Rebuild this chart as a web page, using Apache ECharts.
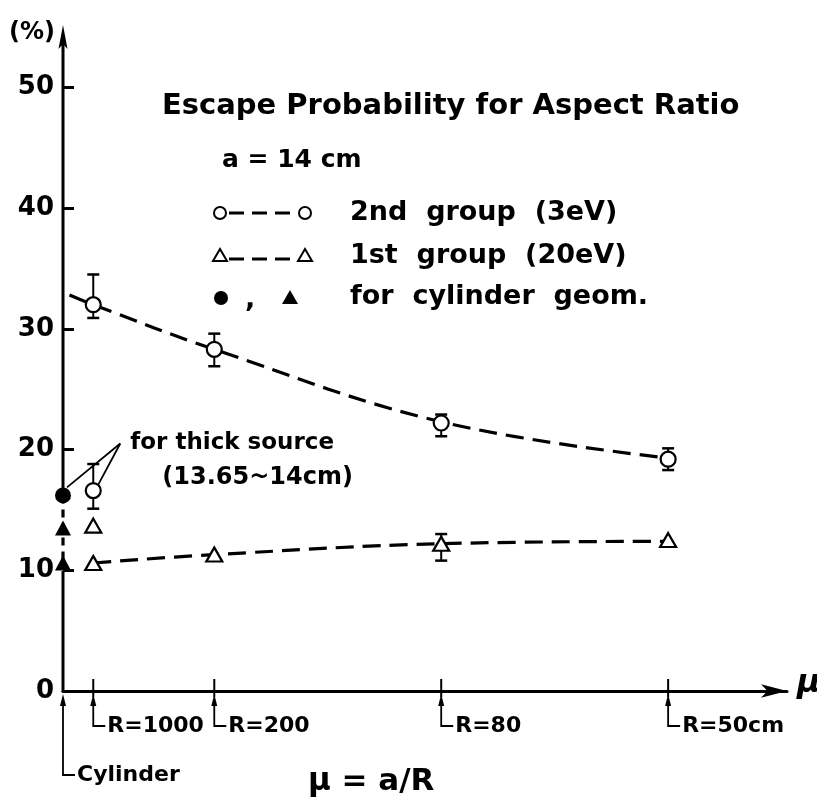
<!DOCTYPE html>
<html><head><meta charset="utf-8">
<script src="https://cdn.jsdelivr.net/npm/echarts@6/dist/echarts.min.js"></script>
<style>html,body{margin:0;padding:0;background:#fff}#c{width:817px;height:797px}</style>
</head><body><div id="c"></div>
<script>
// ---- data ----
const muPositions = [0.014, 0.07, 0.175, 0.28];
const axisMarkLabels = ['R=1000', 'R=200', 'R=80', 'R=50cm'];
const cylinderMu = [0];
const cylinderLabel = ['Cylinder'];
const yTickValues = [10, 20, 30, 40, 50];
const yLabelValues = [0, 10, 20, 30, 40, 50];
const yAxisMax = 55;

const group2Values = [32.0, 28.3, 22.2, 19.2];
const group2ErrLow = [30.9, 26.9, 21.1, 18.3];
const group2ErrHigh = [34.5, 29.6, 22.9, 20.1];
const group1Values = [10.6, 11.3, 12.2, 12.5];
const group1ErrLow = [null, null, 10.8, null];
const group1ErrHigh = [null, null, 13.0, null];

const thickMu = [0.014];
const thick2Values = [16.6];
const thick2ErrLow = [15.1];
const thick2ErrHigh = [18.8];
const thick1Values = [13.7];

const cylCircleValues = [16.2];
const cylTriangleValues = [13.5, 10.6];

const curve2Mu = [0.003, 0.014, 0.07, 0.175, 0.28];
const curve2Values = [32.8, 32.0, 28.3, 22.3, 19.3];
const curve1Mu = [0.014, 0.07, 0.175, 0.28];
const curve1Values = [10.6, 11.3, 12.2, 12.4];

const annotationAnchor = [0.0265, 20.5];

// ---- helpers ----
const FONT = 'DejaVu Sans';
const BLACK = '#000';
const zip = (xs, ys) => xs.map((x, i) => [x, ys[i]]);

const errData = [];
muPositions.forEach((m, i) => errData.push([m, group2ErrLow[i], group2ErrHigh[i]]));
muPositions.forEach((m, i) => { if (group1ErrLow[i] != null) errData.push([m, group1ErrLow[i], group1ErrHigh[i]]); });
thickMu.forEach((m, i) => errData.push([m, thick2ErrLow[i], thick2ErrHigh[i]]));

const chart = echarts.init(document.getElementById('c'), null, {renderer: 'canvas'});

const openStyle = {color: '#fff', borderColor: BLACK, borderWidth: 2.2, opacity: 1};
const solidStyle = {color: BLACK, opacity: 1};

const option = {
  backgroundColor: '#fff',
  animation: false,
  grid: {left: 63, top: 27, right: 30, bottom: 106, containLabel: false},
  xAxis: {
    type: 'value', min: 0, max: 0.335,
    axisLine: {show: true, symbol: ['none', 'arrow'], symbolSize: [10, 26], lineStyle: {color: BLACK, width: 3}},
    axisTick: {show: false}, axisLabel: {show: false}, splitLine: {show: false}
  },
  yAxis: {
    type: 'value', min: 0, max: yAxisMax,
    axisLine: {show: false},
    axisTick: {show: true, inside: true, length: 11, customValues: yTickValues, lineStyle: {color: BLACK, width: 3}},
    axisLabel: {show: true, customValues: yLabelValues, color: BLACK, fontFamily: FONT, fontWeight: 'bold', fontSize: 26, margin: 9},
    splitLine: {show: false}
  },
  series: [
    {
      // y axis drawn in two solid pieces, interrupted by the cylinder points
      type: 'custom', z: 1, silent: true, clip: false,
      data: [[cylinderMu[0], Math.min.apply(null, cylTriangleValues), cylCircleValues[0]]],
      renderItem: function (params, api) {
        const bottom = api.coord([api.value(0), 0]);
        const lowEnd = api.coord([api.value(0), api.value(1)]);
        const highStart = api.coord([api.value(0), api.value(2)]);
        const top = api.coord([api.value(0), yAxisMax]);
        const x = bottom[0];
        return {type: 'group', children: [
          {type: 'line', shape: {x1: x, y1: bottom[1] + 1, x2: x, y2: lowEnd[1] + 8}, style: {stroke: BLACK, lineWidth: 3}},
          {type: 'line', shape: {x1: x, y1: highStart[1] - 6, x2: x, y2: top[1] + 10}, style: {stroke: BLACK, lineWidth: 3}},
          {type: 'polygon', shape: {points: [[x, top[1] - 2], [x + 4.5, top[1] + 22], [x, top[1] + 17], [x - 4.5, top[1] + 22]]}, style: {fill: BLACK}}
        ]};
      }
    },
    {
      type: 'line', data: zip(curve2Mu, curve2Values), smooth: 0.4, showSymbol: false, z: 1,
      lineStyle: {color: BLACK, width: 3.2, type: [18, 9]}
    },
    {
      type: 'line', data: zip(curve1Mu, curve1Values), smooth: 0.4, showSymbol: false, z: 1,
      lineStyle: {color: BLACK, width: 3.2, type: [18, 9]}
    },
    {
      type: 'line', data: zip([0, 0], [cylCircleValues[0], cylTriangleValues[cylTriangleValues.length - 1]]),
      showSymbol: false, z: 1, clip: false, lineStyle: {color: BLACK, width: 3.2, type: [8, 6]}
    },
    {
      type: 'custom', z: 2, data: errData,
      renderItem: function (params, api) {
        const lo = api.coord([api.value(0), api.value(1)]);
        const hi = api.coord([api.value(0), api.value(2)]);
        const x = lo[0], w = 6;
        return {type: 'group', children: [
          {type: 'line', shape: {x1: x, y1: lo[1], x2: x, y2: hi[1]}, style: {stroke: BLACK, lineWidth: 2}},
          {type: 'line', shape: {x1: x - w, y1: lo[1], x2: x + w, y2: lo[1]}, style: {stroke: BLACK, lineWidth: 2.5}},
          {type: 'line', shape: {x1: x - w, y1: hi[1], x2: x + w, y2: hi[1]}, style: {stroke: BLACK, lineWidth: 2.5}}
        ]};
      }
    },
    {
      type: 'scatter', z: 3, data: zip(muPositions, group2Values).concat(zip(thickMu, thick2Values)),
      symbol: 'circle', symbolSize: 15, itemStyle: openStyle
    },
    {
      type: 'scatter', z: 3, data: zip(muPositions, group1Values).concat(zip(thickMu, thick1Values)),
      symbol: 'triangle', symbolSize: [16, 14], itemStyle: openStyle
    },
    {
      type: 'scatter', z: 3, clip: false, data: zip(cylinderMu, cylCircleValues),
      symbol: 'circle', symbolSize: 16, itemStyle: solidStyle
    },
    {
      type: 'scatter', z: 3, clip: false, data: cylTriangleValues.map(v => [cylinderMu[0], v]),
      symbol: 'triangle', symbolSize: [16, 15], itemStyle: solidStyle
    },
    {
      // x-axis R marks with leaders
      type: 'custom', z: 4, silent: true, clip: false,
      data: muPositions.map((m, i) => [m, axisMarkLabels[i]]),
      renderItem: function (params, api) {
        const p = api.coord([api.value(0), 0]);
        const x = p[0], y = p[1];
        const label = axisMarkLabels[params.dataIndex];
        return {type: 'group', children: [
          {type: 'line', shape: {x1: x, y1: y - 12, x2: x, y2: y + 6}, style: {stroke: BLACK, lineWidth: 2}},
          {type: 'polygon', shape: {points: [[x, y + 3], [x - 3, y + 15], [x + 3, y + 15]]}, style: {fill: BLACK}},
          {type: 'polyline', shape: {points: [[x, y + 10], [x, y + 35], [x + 12, y + 35]]}, style: {stroke: BLACK, lineWidth: 1.8, fill: null}},
          {type: 'text', x: x + 14, y: y + 35, style: {text: label, font: 'bold 22px ' + FONT, verticalAlign: 'middle', fill: BLACK}}
        ]};
      }
    },
    {
      type: 'custom', z: 4, silent: true, clip: false,
      data: cylinderMu.map((m, i) => [m, cylinderLabel[i]]),
      renderItem: function (params, api) {
        const p = api.coord([api.value(0), 0]);
        const x = p[0], y = p[1];
        return {type: 'group', children: [
          {type: 'polygon', shape: {points: [[x, y + 3], [x - 3, y + 15], [x + 3, y + 15]]}, style: {fill: BLACK}},
          {type: 'polyline', shape: {points: [[x, y + 10], [x, y + 84], [x + 12, y + 84]]}, style: {stroke: BLACK, lineWidth: 1.8, fill: null}},
          {type: 'text', x: x + 14, y: y + 84, style: {text: cylinderLabel[params.dataIndex], font: 'bold 22px ' + FONT, verticalAlign: 'middle', fill: BLACK}}
        ]};
      }
    },
    {
      // annotation for thick source
      type: 'custom', z: 4, silent: true, clip: false,
      data: [annotationAnchor],
      renderItem: function (params, api) {
        const a = api.coord([api.value(0), api.value(1)]);
        const t1 = api.coord([cylinderMu[0], cylCircleValues[0]]);
        const t2 = api.coord([thickMu[0], thick2Values[0]]);
        return {type: 'group', children: [
          {type: 'line', shape: {x1: a[0], y1: a[1], x2: t1[0] + 4, y2: t1[1] - 8}, style: {stroke: BLACK, lineWidth: 1.8}},
          {type: 'line', shape: {x1: a[0], y1: a[1], x2: t2[0] + 5, y2: t2[1] - 6}, style: {stroke: BLACK, lineWidth: 1.8}},
          {type: 'text', x: a[0] + 10, y: a[1], style: {text: 'for thick source', font: 'bold 23px ' + FONT, verticalAlign: 'middle', fill: BLACK}},
          {type: 'text', x: a[0] + 42, y: a[1] + 34, style: {text: '(13.65~14cm)', font: 'bold 24px ' + FONT, verticalAlign: 'middle', fill: BLACK}}
        ]};
      }
    }
  ],
  graphic: [
    {type: 'text', x: 9, y: 33, style: {text: '(%)', font: 'bold 24px ' + FONT, fill: BLACK, verticalAlign: 'middle'}},
    {type: 'text', x: 797, y: 684, style: {text: 'μ', font: 'italic bold 32px ' + FONT, fill: BLACK, verticalAlign: 'middle'}},
    {type: 'text', x: 308, y: 782, style: {text: 'μ = a/R', font: 'bold 31px ' + FONT, fill: BLACK, verticalAlign: 'middle'}},
    {type: 'text', x: 162, y: 106, style: {text: 'Escape Probability for Aspect Ratio', font: 'bold 29px ' + FONT, fill: BLACK, verticalAlign: 'middle'}},
    {type: 'text', x: 222, y: 160, style: {text: 'a = 14 cm', font: 'bold 25px ' + FONT, fill: BLACK, verticalAlign: 'middle'}},
    // legend row 1
    {type: 'circle', shape: {cx: 220, cy: 213, r: 6}, style: {fill: '#fff', stroke: BLACK, lineWidth: 2}},
    {type: 'line', shape: {x1: 229, y1: 213, x2: 296, y2: 213}, style: {stroke: BLACK, lineWidth: 3, lineDash: [15, 8]}},
    {type: 'circle', shape: {cx: 305, cy: 213, r: 6}, style: {fill: '#fff', stroke: BLACK, lineWidth: 2}},
    {type: 'text', x: 350, y: 213, style: {text: '2nd  group  (3eV)', font: 'bold 27px ' + FONT, fill: BLACK, verticalAlign: 'middle'}},
    // legend row 2
    {type: 'polygon', shape: {points: [[220, 249], [213, 261], [227, 261]]}, style: {fill: '#fff', stroke: BLACK, lineWidth: 2}},
    {type: 'line', shape: {x1: 229, y1: 259, x2: 296, y2: 259}, style: {stroke: BLACK, lineWidth: 3, lineDash: [15, 8]}},
    {type: 'polygon', shape: {points: [[305, 249], [298, 261], [312, 261]]}, style: {fill: '#fff', stroke: BLACK, lineWidth: 2}},
    {type: 'text', x: 350, y: 256, style: {text: '1st  group  (20eV)', font: 'bold 27px ' + FONT, fill: BLACK, verticalAlign: 'middle'}},
    // legend row 3
    {type: 'circle', shape: {cx: 221, cy: 298, r: 7}, style: {fill: BLACK}},
    {type: 'text', x: 245, y: 300, style: {text: ',', font: 'bold 27px ' + FONT, fill: BLACK, verticalAlign: 'middle'}},
    {type: 'polygon', shape: {points: [[290, 290], [282, 304], [298, 304]]}, style: {fill: BLACK}},
    {type: 'text', x: 350, y: 297, style: {text: 'for  cylinder  geom.', font: 'bold 27px ' + FONT, fill: BLACK, verticalAlign: 'middle'}}
  ]
};
chart.setOption(option);
</script>
</body></html>
